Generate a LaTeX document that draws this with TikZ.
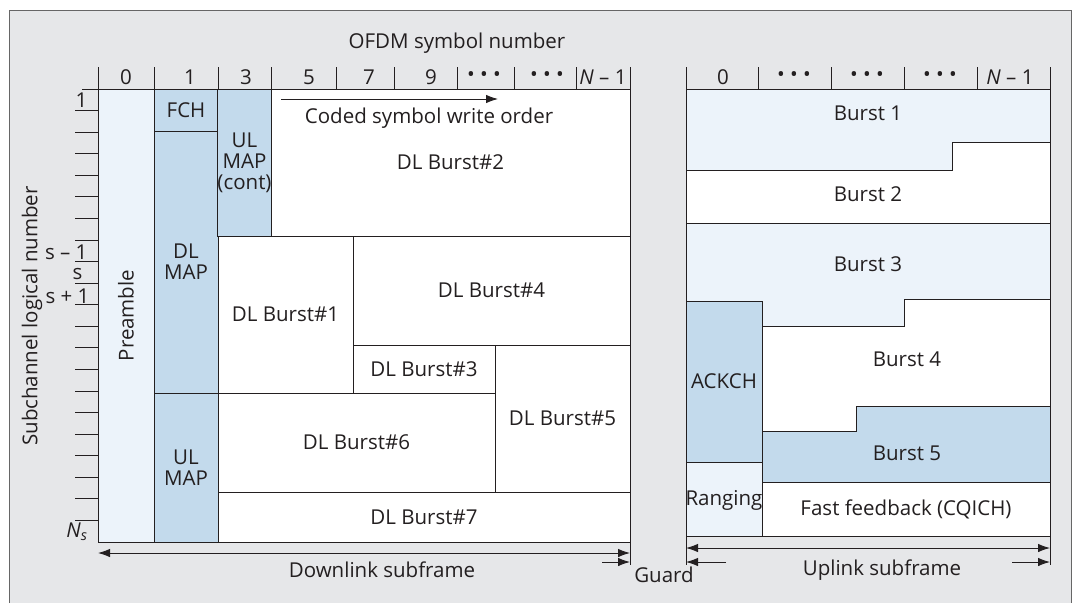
\documentclass[tikz,border=0pt]{standalone}
\usepackage{fontspec}
\setmainfont{Open Sans}
\usetikzlibrary{arrows.meta}

\definecolor{bgframe}{HTML}{E6E7E9}
\definecolor{lite}{HTML}{ECF3FA}
\definecolor{midblue}{HTML}{C3DAEC}
\definecolor{ink}{HTML}{231F20}

\newcommand{\dotrow}{•~•~•}
\newcommand{\nmone}{{\itshape N}~–~1}

\begin{document}
\begin{tikzpicture}[x=1pt, y=-1pt,
    every node/.style={font=\fontsize{20.5}{21}\selectfont, text=ink},
    cell/.style={rectangle, draw=ink, line width=0.9pt, inner sep=0pt, outer sep=0pt, align=center},
    rule/.style={draw=ink, line width=0.9pt},
    arr/.style={rule, -{Latex[length=12pt, width=8.5pt]}},
    dbl/.style={rule, {Latex[length=12pt, width=8.5pt]}-{Latex[length=12pt, width=8.5pt]}}
]
\useasboundingbox (0,0) rectangle (1075,603);

% frame
\path[fill=bgframe] (9,10) rectangle (1071,603);
\draw[black!60, line width=0.8pt] (9,603) -- (9,10) -- (1071,10) -- (1071,603);

% axis titles
\node (ofdm) at (457,43) {OFDM symbol number};
\node[rotate=90] (subch) at (32,316) {Subchannel logical number};

% symbol header, downlink
\foreach \x in {98,154,218,271,336,394,457,514,576,630}
  \draw[rule] (\x,67) -- (\x,89);
\draw[rule] (82,89) -- (630,89);
\foreach \x/\t [count=\i] in {126/0, 190/1, 246/3, 309/5, 369/7, 431/9, 484/\dotrow, 547/\dotrow, 603/\nmone}
  \node (dh\i) at (\x,77) {\t};

% symbol header, uplink
\foreach \x in {686,758,831,904,977,1050}
  \draw[rule] (\x,67) -- (\x,89);
\foreach \x/\t [count=\i] in {723/0, 794/\dotrow, 867/\dotrow, 940/\dotrow, 1010/\nmone}
  \node (uh\i) at (\x,77) {\t};

% subchannel ticks and labels
\foreach \k in {1,...,20}
  \draw[rule] (75,{89+\k*21.57}) -- (98,{89+\k*21.57});
\node[anchor=east] (r1) at (91,100) {1};
\node[anchor=east] (rsm) at (91,252.5) {s – 1};
\node[anchor=east] (rs) at (86,274) {s};
\node[anchor=east] (rsp) at (93,296) {s + 1};
\node[anchor=east] (rns) at (91,532) {{\itshape N}\textsubscript{\itshape s}};

% downlink subframe
\node[cell, fill=lite, minimum width=56pt, minimum height=453pt] (pre) at (126,315.5) {};
\node[rotate=90] (pretxt) at (pre.center) {Preamble};
\node[cell, fill=midblue, minimum width=64pt, minimum height=42pt] (fch) at (186,110) {FCH};
\node[cell, fill=midblue, minimum width=64pt, minimum height=262pt] (dlmap) at (186,262) {DL\\MAP};
\node[cell, fill=midblue, minimum width=64pt, minimum height=149pt] (ulmap) at (186,467.5) {UL\\MAP};
\node[cell, fill=midblue, minimum width=53pt, minimum height=147pt] (ulmapc) at (244.5,162.5) {UL\\MAP\\(cont)};
\node[cell, fill=white, minimum width=359pt, minimum height=147pt] (dlb2) at (450.5,162.5) {DL Burst\#2};
\node[cell, fill=white, minimum width=135pt, minimum height=157pt] (dlb1) at (285.5,314.5) {DL Burst\#1};
\node[cell, fill=white, minimum width=277pt, minimum height=109pt] (dlb4) at (491.5,290.5) {DL Burst\#4};
\node[cell, fill=white, minimum width=142pt, minimum height=48pt] (dlb3) at (424,369) {DL Burst\#3};
\node[cell, fill=white, minimum width=135pt, minimum height=147pt] (dlb5) at (562.5,418.5) {DL Burst\#5};
\node[cell, fill=white, minimum width=277pt, minimum height=99pt] (dlb6) at (356.5,442.5) {DL Burst\#6};
\node[cell, fill=white, minimum width=412pt, minimum height=50pt] (dlb7) at (424,517) {DL Burst\#7};

% write order
\coordinate (wrA) at (281,99);
\coordinate (wrB) at (498,99);
\draw[arr] (wrA) -- (wrB);
\node (wrtxt) at (429,118) {Coded symbol write order};

% uplink subframe
\filldraw[rule, fill=lite] (686,89) -- (1050,89) -- (1050,142) -- (952,142) -- (952,170) -- (686,170) -- cycle;
\filldraw[rule, fill=white] (686,170) -- (952,170) -- (952,142) -- (1050,142) -- (1050,223) -- (686,223) -- cycle;
\filldraw[rule, fill=lite] (686,223) -- (1050,223) -- (1050,299) -- (904,299) -- (904,326) -- (762,326) -- (762,301) -- (686,301) -- cycle;
\filldraw[rule, fill=white] (762,326) -- (904,326) -- (904,299) -- (1050,299) -- (1050,406) -- (856,406) -- (856,431) -- (762,431) -- cycle;
\filldraw[rule, fill=midblue] (762,431) -- (856,431) -- (856,406) -- (1050,406) -- (1050,482) -- (762,482) -- cycle;
\node[cell, fill=midblue, minimum width=76pt, minimum height=161pt] (ackch) at (724,381.5) {ACKCH};
\node[cell, fill=lite, minimum width=76pt, minimum height=74pt] (rang) at (724,499) {};
\node (rangtxt) at (724,500) {Ranging};
\node[cell, fill=white, minimum width=288pt, minimum height=54pt] (ffb) at (906,509) {Fast feedback (CQICH)};
\node (ub1) at (868,113) {Burst 1};
\node (ub2) at (868,194) {Burst 2};
\node (ub3) at (868,264) {Burst 3};
\node (ub4) at (907,359) {Burst 4};
\node (ub5) at (907,453) {Burst 5};

% subframe extents
\draw[rule] (630,542) -- (630,565);
\draw[rule] (686,536) -- (686,565);
\draw[rule] (1050,536) -- (1050,565);
\coordinate (dlL) at (98,553);
\coordinate (dlR) at (630,553);
\draw[dbl] (dlL) -- (dlR);
\coordinate (ulL) at (686,548);
\coordinate (ulR) at (1050,548);
\draw[dbl] (ulL) -- (ulR);
\coordinate (gdA) at (602,562);
\coordinate (gdB) at (630,562);
\draw[arr] (gdA) -- (gdB);
\coordinate (gdC) at (726,562);
\coordinate (gdD) at (686,562);
\draw[arr] (gdC) -- (gdD);
\coordinate (ulA) at (1012,562);
\coordinate (ulB) at (1050,562);
\draw[arr] (ulA) -- (ulB);
\node (dltxt) at (382,570) {Downlink subframe};
\node (gdtxt) at (664,575) {Guard};
\node (ultxt) at (882,570) {Uplink subframe};
\end{tikzpicture}
\end{document}
